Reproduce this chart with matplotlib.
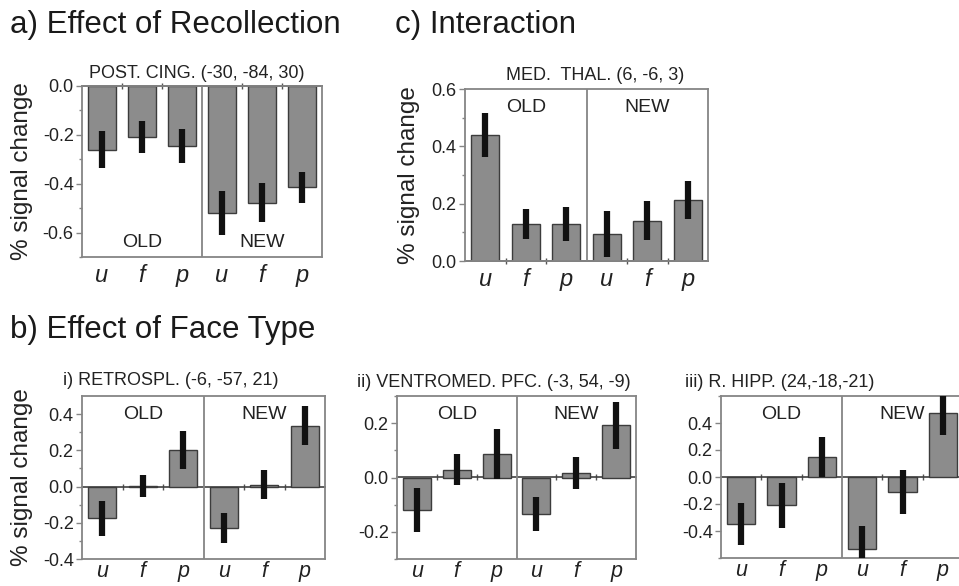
import matplotlib
matplotlib.use("Agg")
import matplotlib.pyplot as plt
from matplotlib.ticker import FixedLocator, FormatStrFormatter

plt.rcParams['font.family'] = ['Liberation Sans', 'DejaVu Sans']
plt.rcParams['axes.unicode_minus'] = False

# conditions (old: u f p, new: u f p)
conditions = ['u', 'f', 'p', 'u', 'f', 'p']

# a) POST. CING.
postcing_vals = [-0.26, -0.21, -0.245, -0.52, -0.477, -0.415]
postcing_err = [0.075, 0.065, 0.07, 0.09, 0.08, 0.065]

# c) MED. THAL.
medthal_vals = [0.44, 0.13, 0.13, 0.093, 0.14, 0.213]
medthal_err = [0.077, 0.052, 0.06, 0.08, 0.068, 0.067]

# b-i) RETROSPL.
retro_vals = [-0.176, 0.002, 0.2, -0.231, 0.01, 0.336]
retro_err = [0.095, 0.06, 0.104, 0.083, 0.08, 0.108]

# b-ii) VENTROMED. PFC.
vmpfc_vals = [-0.118, 0.029, 0.085, -0.134, 0.018, 0.192]
vmpfc_err = [0.081, 0.057, 0.092, 0.063, 0.059, 0.087]

# b-iii) R. HIPP.
hipp_vals = [-0.345, -0.21, 0.148, -0.53, -0.11, 0.472]
hipp_err = [0.155, 0.166, 0.148, 0.165, 0.163, 0.16]

W, H = 959, 586
BAR = '#8c8c8c'
EDGE = '#3c3c3c'
SPINE = '#858585'
TXT = '#222222'


def px_rect(left, right, top, bottom):
    return [left / W, 1 - bottom / H, (right - left) / W, (bottom - top) / H]


def draw_panel(fig, rect, vals, errs, ylim, major, minor, labels_pos,
               ylabel=False, ylabel_x=-0.2, xsize=17, xpad=5):
    ax = fig.add_axes(rect)
    x = list(range(len(vals)))
    ax.bar(x, vals, width=0.7, color=BAR, edgecolor=EDGE, linewidth=1.0, zorder=2)
    ax.errorbar(x, vals, yerr=errs, fmt='none', ecolor='#111111',
                elinewidth=4.5, capsize=0, zorder=3)
    ax.axvline(2.5, color=SPINE, lw=1.3, zorder=1)
    ax.set_xlim(-0.5, 5.5)
    ax.set_ylim(*ylim)
    for s in ax.spines.values():
        s.set_color(SPINE)
        s.set_linewidth(1.3)
    ax.set_xticks(x)
    ax.set_xticklabels(conditions, fontsize=xsize, style='italic', color=TXT)
    ax.tick_params(axis='x', length=0, pad=xpad)
    ax.yaxis.set_major_locator(FixedLocator(major))
    ax.yaxis.set_minor_locator(FixedLocator(minor))
    ax.yaxis.set_major_formatter(FormatStrFormatter('%.1f'))
    ax.tick_params(axis='y', which='major', length=4, width=1, color=SPINE,
                   labelsize=13, labelcolor=TXT, pad=2)
    ax.tick_params(axis='y', which='minor', length=2.5, width=1, color=SPINE)

    # zero line with small boundary ticks
    frac = (0 - ylim[0]) / (ylim[1] - ylim[0])
    sec = ax.secondary_xaxis(frac)
    sec.set_xticks([0.5, 1.5, 3.5, 4.5])
    sec.tick_params(length=5, width=1, direction='inout', color='#555555',
                    labelbottom=False, labeltop=False)
    for side in ('bottom', 'top'):
        sec.spines[side].set_color('#404040')
        sec.spines[side].set_linewidth(1.2)

    span = ylim[1] - ylim[0]
    if labels_pos == 'bottom':
        ax.text(1, ylim[0] + 0.035 * span, 'OLD', ha='center', va='bottom',
                fontsize=14, color=TXT)
        ax.text(4, ylim[0] + 0.035 * span, 'NEW', ha='center', va='bottom',
                fontsize=14, color=TXT)
    else:
        ax.text(1, ylim[1] - 0.06 * span, 'OLD', ha='center', va='top',
                fontsize=14, color=TXT)
        ax.text(4, ylim[1] - 0.06 * span, 'NEW', ha='center', va='top',
                fontsize=14, color=TXT)

    if ylabel:
        ax.set_ylabel('% signal change', fontsize=17.5, color=TXT)
        ax.yaxis.set_label_coords(ylabel_x, 0.5)
    return ax


fig = plt.figure(figsize=(W / 100, H / 100), dpi=100)

draw_panel(fig, px_rect(82, 322, 86, 257), postcing_vals, postcing_err,
           (-0.7, 0.0), [-0.6, -0.4, -0.2, 0.0], [-0.7, -0.5, -0.3, -0.1],
           'bottom', ylabel=True, ylabel_x=-0.205)
draw_panel(fig, px_rect(465, 708, 89, 261), medthal_vals, medthal_err,
           (0.0, 0.6), [0.0, 0.2, 0.4, 0.6], [0.1, 0.3, 0.5],
           'top', ylabel=True, ylabel_x=-0.185)
draw_panel(fig, px_rect(82, 325, 396, 559), retro_vals, retro_err,
           (-0.4, 0.5), [-0.4, -0.2, 0.0, 0.2, 0.4], [-0.3, -0.1, 0.1, 0.3],
           'top', ylabel=True, ylabel_x=-0.202, xsize=15.5, xpad=1.5)
draw_panel(fig, px_rect(397, 636, 396, 559), vmpfc_vals, vmpfc_err,
           (-0.3, 0.3), [-0.2, 0.0, 0.2], [-0.3, -0.1, 0.1, 0.3], 'top',
           xsize=15.5, xpad=1.5)
draw_panel(fig, px_rect(721, 963, 396, 558), hipp_vals, hipp_err,
           (-0.6, 0.6), [-0.4, -0.2, 0.0, 0.2, 0.4], [-0.6, 0.6], 'top',
           xsize=15.5, xpad=1.5)

# headings
fig.text(10 / W, 1 - 33 / H, 'a) Effect of Recollection', fontsize=22.5,
         va='baseline', color='#1a1a1a')
fig.text(395 / W, 1 - 33 / H, 'c) Interaction', fontsize=22.5,
         va='baseline', color='#1a1a1a')
fig.text(10 / W, 1 - 338 / H, 'b) Effect of Face Type', fontsize=22.5,
         va='baseline', color='#1a1a1a')

# region labels
fig.text(197 / W, 1 - 78 / H, 'POST. CING. (-30, -84, 30)', fontsize=13,
         ha='center', va='baseline', color=TXT)
fig.text(595 / W, 1 - 80 / H, 'MED.  THAL. (6, -6, 3)', fontsize=13,
         ha='center', va='baseline', color=TXT)
fig.text(63 / W, 1 - 385 / H, 'i) RETROSPL. (-6, -57, 21)', fontsize=13,
         va='baseline', color=TXT)
fig.text(357 / W, 1 - 387 / H, 'ii) VENTROMED. PFC. (-3, 54, -9)', fontsize=13,
         va='baseline', color=TXT)
fig.text(685 / W, 1 - 387 / H, 'iii) R. HIPP. (24,-18,-21)', fontsize=13,
         va='baseline', color=TXT)

fig.savefig('out.png', dpi=100)
